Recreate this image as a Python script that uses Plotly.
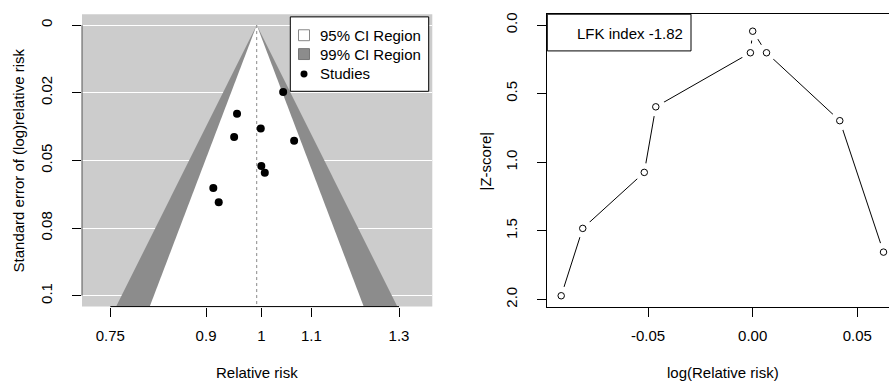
import numpy as np
import plotly.graph_objects as go

# ---- study data (log relative risk, its standard error, Doi-plot |Z|) ----
log_rr = [-0.0915, -0.0812, -0.0518, -0.0463, -0.0011, 0.0000, 0.0066, 0.0416, 0.0625]
se_log_rr = [0.0602, 0.0655, 0.0414, 0.0328, 0.0382, 0.0521, 0.0546, 0.0247, 0.0427]
abs_z = [1.973, 1.482, 1.074, 0.596, 0.202, 0.045, 0.202, 0.697, 1.655]

pooled_log_rr = -0.0088
lfk_index = -1.82
z95, z99 = 1.96, 2.576

# ---- axis ticks ----
rr_ticks = [0.75, 0.9, 1, 1.1, 1.3]
rr_tick_text = ["0.75", "0.9", "1", "1.1", "1.3"]
se_ticks = [0, 0.025, 0.05, 0.075, 0.1]
se_tick_text = ["0", "0.02", "0.05", "0.08", "0.1"]
lx_ticks = [-0.05, 0.0, 0.05]
lx_tick_text = ["-0.05", "0.00", "0.05"]
z_ticks = [0, 0.5, 1.0, 1.5, 2.0]
z_tick_text = ["0.0", "0.5", "1.0", "1.5", "2.0"]

W, H = 889, 382
FONT = "Arial, Liberation Sans, Helvetica, sans-serif"
FS = 15
BACK = "#CCCCCC"
SHADE99 = "#8C8C8C"


def px(x):
    return x / W


def py(y):
    return 1 - y / H


se_range = [0.104, -0.004]
se_bottom = se_range[0]
c = pooled_log_rr

fig = go.Figure()

# ---- funnel plot (left) ----
fig.add_trace(go.Scatter(
    x=[c - z99 * se_bottom, c, c + z99 * se_bottom],
    y=[se_bottom, 0, se_bottom],
    fill="toself", fillcolor=SHADE99, mode="none",
    hoverinfo="skip", showlegend=False, xaxis="x", yaxis="y"))
fig.add_trace(go.Scatter(
    x=[c - z95 * se_bottom, c, c + z95 * se_bottom],
    y=[se_bottom, 0, se_bottom],
    fill="toself", fillcolor="white", mode="none",
    hoverinfo="skip", showlegend=False, xaxis="x", yaxis="y"))
fig.add_trace(go.Scatter(
    x=[c, c], y=[0, se_bottom], mode="lines",
    line=dict(color="#888888", width=1, dash="dot"),
    hoverinfo="skip", showlegend=False, xaxis="x", yaxis="y"))
fig.add_trace(go.Scatter(
    x=log_rr, y=se_log_rr, mode="markers",
    marker=dict(color="black", size=8),
    showlegend=False, xaxis="x", yaxis="y"))

# ---- Doi plot (right) ----
fig.add_trace(go.Scatter(
    x=log_rr, y=abs_z, mode="lines",
    line=dict(color="black", width=1),
    hoverinfo="skip", showlegend=False, xaxis="x2", yaxis="y2"))
fig.add_trace(go.Scatter(
    x=log_rr, y=abs_z, mode="markers",
    marker=dict(color="white", size=19, line=dict(width=0)),
    hoverinfo="skip", showlegend=False, xaxis="x2", yaxis="y2"))
fig.add_trace(go.Scatter(
    x=log_rr, y=abs_z, mode="markers",
    marker=dict(color="white", size=6.5, line=dict(color="black", width=1)),
    showlegend=False, xaxis="x2", yaxis="y2"))

y_dom = [py(307), py(12.3)]
left_x_range = [(82 - 261.33) / 524.8, (432.3 - 261.33) / 524.8]
right_x_range = [(547.3 - 752.7) / 2093, (889 - 752.7) / 2093]

tickfont = dict(family=FONT, size=FS, color="black")

fig.update_layout(
    width=W, height=H,
    margin=dict(l=0, r=0, t=0, b=0),
    paper_bgcolor="white", plot_bgcolor="white",
    font=dict(family=FONT, size=FS, color="black"),
    showlegend=False,
    xaxis=dict(domain=[px(82), px(432.3)], range=left_x_range,
               tickvals=list(np.log(rr_ticks)), ticktext=rr_tick_text,
               ticks="outside", ticklen=9, tickcolor="black", tickwidth=1,
               showgrid=False, zeroline=False, showline=False,
               tickfont=tickfont, ticklabelstandoff=6, anchor="y"),
    yaxis=dict(domain=y_dom, range=se_range,
               tickvals=se_ticks, ticktext=se_tick_text, tickangle=-90,
               ticks="outside", ticklen=9, tickcolor="black", tickwidth=1,
               showgrid=True, gridcolor="white", gridwidth=1,
               zeroline=False, showline=False,
               tickfont=tickfont, ticklabelstandoff=14, anchor="x"),
    xaxis2=dict(domain=[px(547.3), 1], range=right_x_range,
                tickvals=lx_ticks, ticktext=lx_tick_text,
                ticks="outside", ticklen=9, tickcolor="black", tickwidth=1,
                showgrid=False, zeroline=False,
                showline=True, linecolor="black", linewidth=1, mirror=True,
                tickfont=tickfont, ticklabelstandoff=6, anchor="y2"),
    yaxis2=dict(domain=y_dom, range=[2.052, -0.079],
                tickvals=z_ticks, ticktext=z_tick_text, tickangle=-90,
                ticks="outside", ticklen=9, tickcolor="black", tickwidth=1,
                showgrid=False, zeroline=False,
                showline=True, linecolor="black", linewidth=1, mirror=False,
                tickfont=tickfont, ticklabelstandoff=14, anchor="x2"),
)

shapes = [
    # grey backdrop of the funnel panel
    dict(type="rect", xref="x domain", yref="y domain", x0=0, x1=1, y0=0, y1=1,
         fillcolor=BACK, line=dict(width=0), layer="below"),
    # axis lines spanning first to last tick
    dict(type="line", xref="x", yref="y domain",
         x0=float(np.log(rr_ticks[0])), x1=float(np.log(rr_ticks[-1])), y0=0, y1=0,
         line=dict(color="black", width=1)),
    dict(type="line", xref="x domain", yref="y", x0=0, x1=0,
         y0=se_ticks[0], y1=se_ticks[-1], line=dict(color="#555555", width=1)),
    # legend of the funnel panel
    dict(type="rect", xref="paper", yref="paper",
         x0=px(290.3), x1=px(428.7), y0=py(90), y1=py(15),
         fillcolor="white", line=dict(color="black", width=1)),
    dict(type="rect", xref="paper", yref="paper",
         x0=px(298.5), x1=px(309.5), y0=py(39), y1=py(28),
         fillcolor="white", line=dict(color="#888888", width=1)),
    dict(type="rect", xref="paper", yref="paper",
         x0=px(298.5), x1=px(309.5), y0=py(58), y1=py(47),
         fillcolor=SHADE99, line=dict(color="#777777", width=1)),
    dict(type="circle", xref="paper", yref="paper",
         x0=px(300.5), x1=px(307.5), y0=py(76), y1=py(69),
         fillcolor="black", line=dict(color="black", width=0)),
    # LFK index box
    dict(type="rect", xref="paper", yref="paper",
         x0=px(547.3), x1=px(691), y0=py(49.3), y1=py(12.3),
         fillcolor="white", line=dict(color="black", width=1)),
]
fig.update_layout(shapes=shapes)

ann = [
    dict(text="95% CI Region", x=px(318), y=py(33.5), xanchor="left"),
    dict(text="99% CI Region", x=px(318), y=py(52.5), xanchor="left"),
    dict(text="Studies", x=px(318), y=py(72.5), xanchor="left"),
    dict(text=f"LFK index {lfk_index:.2f}", x=px(630), y=py(31.5), xanchor="center"),
    dict(text="Relative risk", x=px(257.2), y=py(373.3), xanchor="center"),
    dict(text="log(Relative risk)", x=px(722.5), y=py(373.3), xanchor="center"),
    dict(text="Standard error of (log)relative risk", x=px(18), y=py(159.7),
         xanchor="center", textangle=-90),
    dict(text="|Z-score|", x=px(485), y=py(159.7), xanchor="center", textangle=-90),
]
for a in ann:
    a.update(xref="paper", yref="paper", yanchor="middle", showarrow=False,
             font=dict(family=FONT, size=FS, color="black"))
fig.update_layout(annotations=ann)

fig.write_html("out.html")
